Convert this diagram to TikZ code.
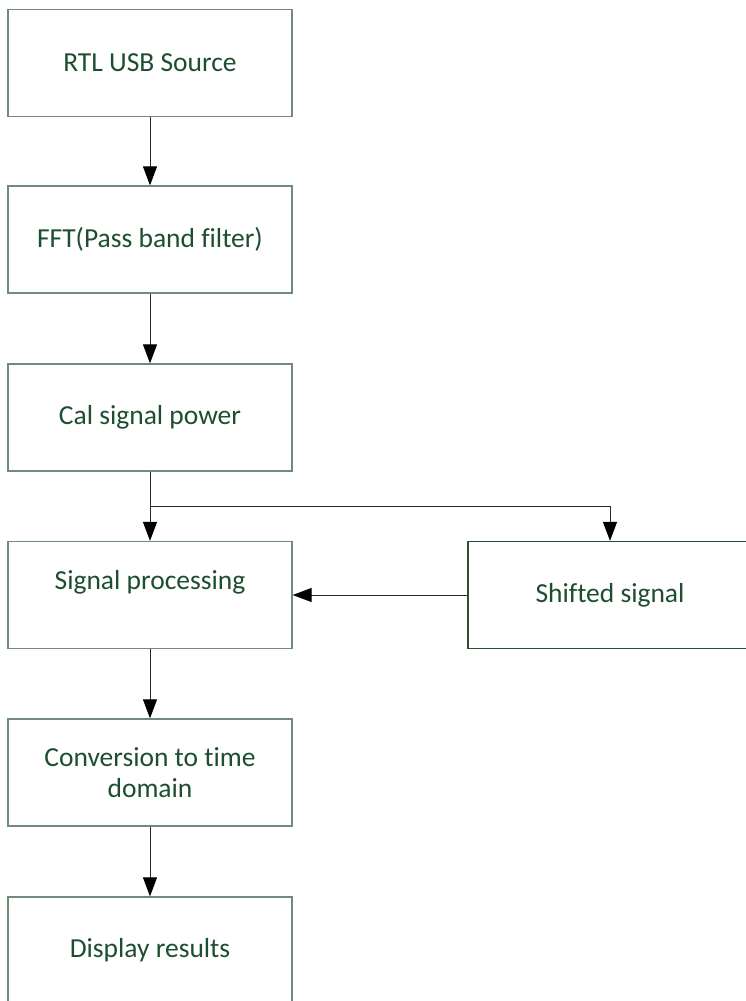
\documentclass[tikz,border=0pt]{standalone}
\usepackage{fontspec}
\setmainfont{Carlito}[RawFeature={-liga}]
\usetikzlibrary{arrows.meta}
\definecolor{txtgreen}{RGB}{30,78,48}
\definecolor{boxedge}{RGB}{110,140,120}
\definecolor{boxedgedark}{RGB}{40,80,50}
\definecolor{wire}{RGB}{40,40,40}
\tikzset{
  stage/.style={draw=boxedge, line width=1.3pt, fill=white, minimum width=284pt,
    minimum height=107pt, inner sep=0pt, align=center, text=txtgreen,
    font=\fontsize{27.5}{31}\selectfont},
  flow/.style={draw=wire, line width=1pt,
    -{Triangle[length=19pt, width=14pt, color=black]}},
}
\begin{document}
\begin{tikzpicture}[x=1pt, y=-1pt]
  \useasboundingbox (0,0) rectangle (746,1001);
  \clip (0,0) rectangle (746,1001);
  % processing chain
  \node[stage] (src)   at (150,63)    {RTL USB Source};
  \node[stage] (fft)   at (150,239.5) {FFT(Pass band filter)};
  \node[stage] (pow)   at (150,417.5) {Cal signal power};
  \node[stage] (proc)  at (150,595)   {Signal processing\\\mbox{}};
  \node[stage, draw=boxedgedark] (shift) at (610,595) {Shifted signal};
  \node[stage] (conv)  at (150,772.5) {Conversion to time\\domain};
  \node[stage] (disp)  at (150,950.5) {Display results};
  \coordinate (split) at (150,506);
  % connectors
  \draw[flow] (src.south) -- (fft.north);
  \draw[flow] (fft.south) -- (pow.north);
  \draw[flow] (pow.south) -- (proc.north);
  \draw[flow] (split) -| (shift.north);
  \draw[flow] (shift.west) -- (proc.east);
  \draw[flow] (proc.south) -- (conv.north);
  \draw[flow] (conv.south) -- (disp.north);
\end{tikzpicture}
\end{document}
